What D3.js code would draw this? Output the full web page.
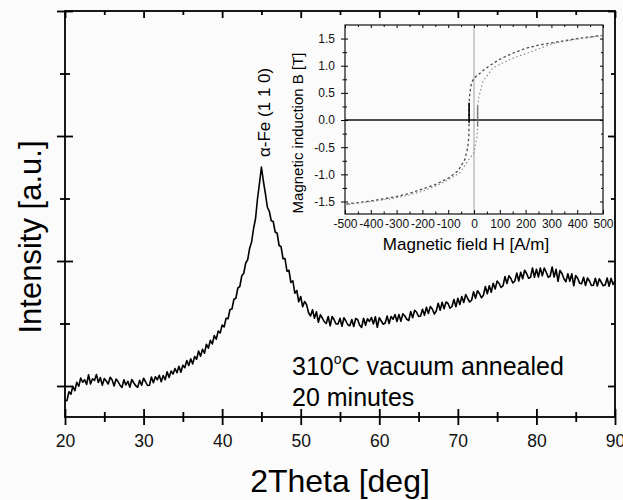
<!DOCTYPE html>
<html>
<head>
<meta charset="utf-8">
<script src="https://cdn.jsdelivr.net/npm/d3@7"></script>
<style>
  body { margin: 0; background: #fbfbfb; }
  svg { display: block; font-family: "Liberation Sans", Arial, sans-serif; }
  .tick text { fill: #111; }
</style>
</head>
<body>
<div id="chart"></div>
<script>
// XRD scan, 2theta sampled every 0.25 deg from 20 to 90
const twoTheta = d3.range(20, 90.001, 0.25);
const intensity = [
  882, 884, 954, 934, 998, 962, 1030, 998,
  1064, 1030, 1050, 1012, 1090, 1016, 1058, 1044,
  1092, 1028, 1068, 1006, 1060, 1040, 1016, 1070,
  1048, 1000, 1056, 1036, 1006, 988, 1050, 1008,
  1038, 990, 1052, 1026, 1002, 990, 1046, 1006,
  1062, 1034, 1004, 1006, 1072, 1026, 1074, 1050,
  1086, 1034, 1084, 1050, 1114, 1068, 1120, 1096,
  1140, 1106, 1158, 1110, 1166, 1146, 1204, 1164,
  1218, 1176, 1236, 1214, 1280, 1238, 1294, 1262,
  1334, 1302, 1366, 1336, 1404, 1374, 1440, 1424,
  1488, 1472, 1542, 1538, 1612, 1616, 1694, 1702,
  1784, 1796, 1882, 1902, 1984, 2010, 2102, 2152,
  2260, 2338, 2498, 2620, 2752, 2638, 2542, 2432,
  2398, 2322, 2316, 2232, 2222, 2124, 2114, 2018,
  2020, 1918, 1926, 1828, 1842, 1742, 1764, 1674,
  1716, 1634, 1676, 1650, 1586, 1560, 1610, 1542,
  1594, 1510, 1570, 1544, 1514, 1500, 1556, 1482,
  1556, 1530, 1496, 1496, 1542, 1478, 1546, 1520,
  1490, 1482, 1532, 1476, 1540, 1530, 1486, 1468,
  1542, 1486, 1538, 1516, 1548, 1496, 1554, 1470,
  1546, 1520, 1494, 1504, 1560, 1500, 1556, 1534,
  1572, 1516, 1572, 1518, 1578, 1560, 1534, 1524,
  1596, 1546, 1606, 1590, 1556, 1560, 1614, 1566,
  1630, 1580, 1636, 1616, 1576, 1600, 1662, 1606,
  1670, 1618, 1672, 1660, 1622, 1636, 1692, 1634,
  1702, 1652, 1716, 1668, 1732, 1700, 1672, 1686,
  1754, 1702, 1762, 1740, 1706, 1726, 1796, 1738,
  1802, 1750, 1822, 1776, 1840, 1820, 1788, 1802,
  1876, 1820, 1882, 1860, 1824, 1840, 1904, 1840,
  1910, 1858, 1926, 1900, 1862, 1870, 1944, 1870,
  1934, 1872, 1944, 1882, 1944, 1910, 1870, 1880,
  1952, 1872, 1934, 1838, 1924, 1900, 1858, 1834,
  1898, 1838, 1898, 1802, 1884, 1862, 1822, 1818,
  1870, 1804, 1864, 1840, 1804, 1806, 1862, 1800,
  1858, 1830, 1802, 1808, 1864, 1798, 1862, 1812,
  1842
];

const xMajor = [20, 30, 40, 50, 60, 70, 80, 90];
const xMinor = [25, 35, 45, 55, 65, 75, 85];
const yMajor = [1000, 2000, 3000, 4000];
const yMinor = [1500, 2500, 3500];

// hysteresis loop (inset)
const hDesc = [500, 450, 400, 350, 300, 250, 200, 150, 100, 60, 40, 20, 0, -10, -16, -19, -19, -20, -24, -35, -62, -100, -150, -200, -250, -300, -350, -400, -450, -500];
const bDesc = [1.56, 1.53, 1.50, 1.46, 1.42, 1.38, 1.32, 1.23, 1.12, 1.0, 0.93, 0.85, 0.77, 0.68, 0.5, 0.32, 0.0, -0.3, -0.5, -0.72, -0.94, -1.07, -1.19, -1.27, -1.35, -1.41, -1.45, -1.49, -1.52, -1.55];
const hAsc = [-500, -450, -400, -350, -300, -250, -200, -150, -100, -54, -24, 0, 4, 12, 14, 14, 20, 23, 35, 74, 140, 205, 306, 400, 450, 500];
const bAsc = [-1.56, -1.53, -1.50, -1.47, -1.43, -1.38, -1.31, -1.22, -1.10, -0.97, -0.75, -0.6, -0.5, -0.3, -0.12, 0.27, 0.45, 0.5, 0.72, 0.96, 1.12, 1.23, 1.41, 1.49, 1.52, 1.56];
// near-vertical switching parts, drawn solid
const hDescCore = [-19, -19];
const bDescCore = [0.32, -0.05];
const hAscCore = [14, 14];
const bAscCore = [0.27, -0.12];

const hTicks = [-500, -400, -300, -200, -100, 0, 100, 200, 300, 400, 500];
const hMinor = [-450, -350, -250, -150, -50, 50, 150, 250, 350, 450];
const bTicks = [-1.5, -1.0, -0.5, 0.0, 0.5, 1.0, 1.5];
const bMinor = [-1.25, -0.75, -0.25, 0.25, 0.75, 1.25];


class XrdFigure {
    constructor() {
        this.width = 623;
        this.height = 500;
        this.plot = { left: 65, right: 615, top: 11, bottom: 417 };
        this.inset = { left: 345, right: 603, top: 25, bottom: 214 };

        this.x = d3.scaleLinear().domain([20, 90]).range([this.plot.left, this.plot.right]);
        this.y = d3.scaleLinear().domain([752, 4000]).range([this.plot.bottom, this.plot.top]);

        this.hx = d3.scaleLinear().domain([-500, 500]).range([this.inset.left, this.inset.right]);
        this.by = d3.scaleLinear().domain([-1.73, 1.75]).range([this.inset.bottom, this.inset.top]);
    }

    renderSvg(id) {
        this.svg = d3.select(id).append("svg")
            .attr("width", this.width)
            .attr("height", this.height);
        this.svg.append("rect")
            .attr("width", this.width)
            .attr("height", this.height)
            .attr("fill", "#fbfbfb");
    }

    // small helper: axis generator -> group, lines restyled afterwards
    axis(gen, tx, ty) {
        const g = this.svg.append("g")
            .attr("transform", "translate(" + tx + "," + ty + ")")
            .call(gen);
        g.select(".domain").remove();
        g.selectAll(".tick line").attr("stroke", "#000");
        return g;
    }

    renderAxes() {
        const p = this.plot;
        const lw = 1.8;

        // bottom: crossing ticks + labels
        const bottom = this.axis(d3.axisBottom(this.x).tickValues(xMajor).tickSize(8).tickPadding(10), 0, p.bottom);
        bottom.selectAll(".tick line").attr("y1", -8).attr("stroke-width", lw);
        bottom.selectAll(".tick text").style("font-size", "17.5px");
        const bottomMinor = this.axis(d3.axisBottom(this.x).tickValues(xMinor).tickSize(5).tickFormat(""), 0, p.bottom);
        bottomMinor.selectAll(".tick line").attr("y1", -5).attr("stroke-width", lw);

        // left: crossing ticks, no labels
        const left = this.axis(d3.axisLeft(this.y).tickValues(yMajor).tickSize(8).tickFormat(""), p.left, 0);
        left.selectAll(".tick line").attr("x1", 8).attr("stroke-width", lw);
        const leftMinor = this.axis(d3.axisLeft(this.y).tickValues(yMinor).tickSize(5).tickFormat(""), p.left, 0);
        leftMinor.selectAll(".tick line").attr("x1", 5).attr("stroke-width", lw);

        // top and right: inward ticks
        this.axis(d3.axisTop(this.x).tickValues(xMajor).tickSize(-7).tickFormat(""), 0, p.top)
            .selectAll(".tick line").attr("stroke-width", lw);
        this.axis(d3.axisTop(this.x).tickValues(xMinor).tickSize(-4).tickFormat(""), 0, p.top)
            .selectAll(".tick line").attr("stroke-width", lw);
        this.axis(d3.axisRight(this.y).tickValues(yMajor).tickSize(-7).tickFormat(""), p.right, 0)
            .selectAll(".tick line").attr("stroke-width", lw);
        this.axis(d3.axisRight(this.y).tickValues(yMinor).tickSize(-4).tickFormat(""), p.right, 0)
            .selectAll(".tick line").attr("stroke-width", lw);

        this.svg.append("rect")
            .attr("x", p.left)
            .attr("y", p.top)
            .attr("width", p.right - p.left)
            .attr("height", p.bottom - p.top)
            .attr("fill", "none")
            .attr("stroke", "#000")
            .attr("stroke-width", lw);
    }

    renderCurve() {
        const self = this;
        const line = d3.line()
            .x(function(d, i) { return self.x(twoTheta[i]); })
            .y(function(d) { return self.y(d); });

        this.svg.append("path")
            .datum(intensity)
            .attr("d", line)
            .attr("fill", "none")
            .attr("stroke", "#000")
            .attr("stroke-width", 1.6)
            .attr("stroke-linejoin", "round");
    }

    renderLabels() {
        const p = this.plot;
        this.svg.append("text")
            .attr("x", (p.left + p.right) / 2)
            .attr("y", 492)
            .style("text-anchor", "middle")
            .style("font-size", "32px")
            .text("2Theta [deg]");

        this.svg.append("text")
            .attr("transform", "translate(41,237) rotate(-90)")
            .style("text-anchor", "middle")
            .style("font-size", "31px")
            .text("Intensity [a.u.]");

        this.svg.append("text")
            .attr("transform", "translate(" + (this.x(45) + 9) + ",157) rotate(-90)")
            .style("text-anchor", "start")
            .style("font-size", "17px")
            .text("\u03b1-Fe (1 1 0)");

        const note = this.svg.append("text")
            .attr("x", 292)
            .attr("y", 375)
            .style("font-size", "25px");
        note.append("tspan").text("310");
        note.append("tspan").attr("dy", -11).style("font-size", "14px").text("o");
        note.append("tspan").attr("dy", 11).text("C vacuum annealed");

        this.svg.append("text")
            .attr("x", 292)
            .attr("y", 406)
            .style("font-size", "25px")
            .text("20 minutes");
    }

    renderInset() {
        const r = this.inset;
        const self = this;
        const fmt = function(d) { return d3.format(".1f")(d).replace("\u2212", "-"); };

        // zero lines
        this.svg.append("line")
            .attr("x1", this.hx(0)).attr("x2", this.hx(0))
            .attr("y1", r.top).attr("y2", r.bottom)
            .attr("stroke", "#a0a0a0").attr("stroke-width", 1);
        this.svg.append("line")
            .attr("x1", r.left).attr("x2", r.right)
            .attr("y1", this.by(0)).attr("y2", this.by(0))
            .attr("stroke", "#111").attr("stroke-width", 1.4);

        // x ticks
        const hb = this.axis(d3.axisBottom(this.hx).tickValues(hTicks).tickSize(0).tickPadding(5), 0, r.bottom);
        hb.selectAll(".tick text").style("font-size", "12px").text(function(d) { return String(d); });
        this.axis(d3.axisBottom(this.hx).tickValues(hTicks).tickSize(-4).tickFormat(""), 0, r.bottom);
        this.axis(d3.axisBottom(this.hx).tickValues(hMinor).tickSize(-2.5).tickFormat(""), 0, r.bottom);
        this.axis(d3.axisTop(this.hx).tickValues(hTicks).tickSize(-3).tickFormat(""), 0, r.top);
        this.axis(d3.axisTop(this.hx).tickValues(hMinor).tickSize(-2).tickFormat(""), 0, r.top);

        // y ticks
        const bl = this.axis(d3.axisLeft(this.by).tickValues(bTicks).tickSize(4).tickPadding(6).tickFormat(fmt), r.left, 0);
        bl.selectAll(".tick line").attr("x1", 3);
        bl.selectAll(".tick text").style("font-size", "12px");
        this.axis(d3.axisLeft(this.by).tickValues(bMinor).tickSize(2.5).tickFormat(""), r.left, 0)
            .selectAll(".tick line").attr("x1", 2);
        this.axis(d3.axisRight(this.by).tickValues(bTicks).tickSize(-3).tickFormat(""), r.right, 0);
        this.axis(d3.axisRight(this.by).tickValues(bMinor).tickSize(-2).tickFormat(""), r.right, 0);

        this.svg.append("rect")
            .attr("x", r.left).attr("y", r.top)
            .attr("width", r.right - r.left).attr("height", r.bottom - r.top)
            .attr("fill", "none").attr("stroke", "#111").attr("stroke-width", 1.2);

        // loop branches
        const lineH = function(hs) {
            return d3.line()
                .x(function(d, i) { return self.hx(hs[i]); })
                .y(function(d) { return self.by(d); });
        };
        this.svg.append("path")
            .datum(bDesc)
            .attr("d", lineH(hDesc))
            .attr("fill", "none").attr("stroke", "#4a4a4a")
            .attr("stroke-width", 1.3).attr("stroke-dasharray", "2.5,2.5");
        this.svg.append("path")
            .datum(bAsc)
            .attr("d", lineH(hAsc))
            .attr("fill", "none").attr("stroke", "#8c8c8c")
            .attr("stroke-width", 1.2).attr("stroke-dasharray", "1.5,2.5");
        this.svg.append("path")
            .datum(bDescCore)
            .attr("d", lineH(hDescCore))
            .attr("fill", "none").attr("stroke", "#000").attr("stroke-width", 1.6);
        this.svg.append("path")
            .datum(bAscCore)
            .attr("d", lineH(hAscCore))
            .attr("fill", "none").attr("stroke", "#777").attr("stroke-width", 1.4);

        // titles
        this.svg.append("text")
            .attr("x", 466)
            .attr("y", 250)
            .style("text-anchor", "middle")
            .style("font-size", "17px")
            .text("Magnetic field H [A/m]");
        this.svg.append("text")
            .attr("transform", "translate(303,133) rotate(-90)")
            .style("text-anchor", "middle")
            .style("font-size", "15px")
            .text("Magnetic induction B [T]");
    }

    render(id) {
        this.renderSvg(id);
        this.renderCurve();
        this.renderAxes();
        this.renderInset();
        this.renderLabels();
    }
}

new XrdFigure().render("#chart");
</script>
</body>
</html>
